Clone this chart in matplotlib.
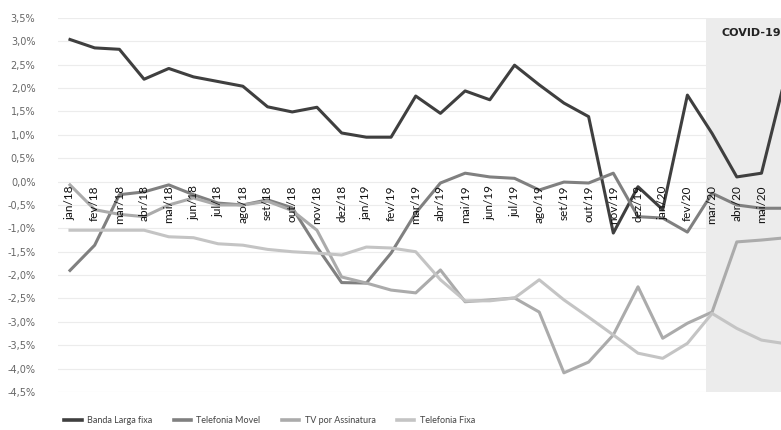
import numpy as np
import matplotlib
matplotlib.use("Agg")
import matplotlib.pyplot as plt
from matplotlib.ticker import FuncFormatter

MONTHS = ["jan/18", "fev/18", "mar/18", "abr/18", "mai/18", "jun/18", "jul/18", "ago/18",
          "set/18", "out/18", "nov/18", "dez/18", "jan/19", "fev/19", "mar/19", "abr/19",
          "mai/19", "jun/19", "jul/19", "ago/19", "set/19", "out/19", "nov/19", "dez/19",
          "jan/20", "fev/20", "mar/20", "abr/20", "mai/20", "jun/20"]

banda_larga = [3.04, 2.86, 2.83, 2.19, 2.42, 2.24, 2.14, 2.04, 1.60, 1.49, 1.59, 1.04,
               0.95, 0.95, 1.83, 1.46, 1.94, 1.75, 2.49, 2.07, 1.68, 1.39, -1.10, -0.11,
               -0.60, 1.85, 1.03, 0.10, 0.18, 2.30]
tel_movel = [-1.90, -1.36, -0.28, -0.22, -0.07, -0.28, -0.46, -0.50, -0.39, -0.56, -1.40, -2.16,
             -2.17, -1.53, -0.67, -0.03, 0.18, 0.10, 0.07, -0.18, -0.01, -0.03, 0.18, -0.75,
             -0.78, -1.08, -0.25, -0.50, -0.57, -0.57]
tv_assinatura = [-0.07, -0.60, -0.70, -0.75, -0.50, -0.35, -0.50, -0.50, -0.42, -0.62, -1.04, -2.04,
                 -2.17, -2.32, -2.38, -1.89, -2.57, -2.53, -2.49, -2.79, -4.09, -3.86, -3.28, -2.25,
                 -3.35, -3.03, -2.79, -1.29, -1.25, -1.20]
tel_fixa = [-1.04, -1.04, -1.04, -1.04, -1.18, -1.20, -1.33, -1.36, -1.45, -1.50, -1.53, -1.57,
            -1.40, -1.42, -1.50, -2.10, -2.55, -2.55, -2.49, -2.10, -2.53, -2.90, -3.28, -3.67,
            -3.78, -3.46, -2.82, -3.14, -3.39, -3.47]

SERIES = [("Banda Larga fixa", banda_larga, "#3f3f3f"),
          ("Telefonia Movel", tel_movel, "#808080"),
          ("TV por Assinatura", tv_assinatura, "#ababab"),
          ("Telefonia Fixa", tel_fixa, "#c4c4c4")]

COVID_START = 25.75
X_MAX = 28.79

fig = plt.figure(figsize=(7.81, 4.30), dpi=100)
ax = fig.add_axes([0.0738, 0.0884, 0.9262, 0.8698])

x = np.arange(len(MONTHS))
ax.axvspan(COVID_START, 31, color="#ececec", zorder=0, lw=0)
for name, vals, col in SERIES:
    ax.plot(x, vals, color=col, lw=2.2, label=name, zorder=3)

ax.set_xlim(-0.5, X_MAX)
ax.set_ylim(-4.5, 3.5)
ax.set_yticks(np.arange(-4.5, 3.51, 0.5))
ax.yaxis.set_major_formatter(FuncFormatter(lambda v, p: f"{v:.1f}%".replace(".", ",")))
ax.tick_params(axis="y", length=0, pad=16, labelsize=7, labelcolor="#666666")
ax.set_xticks([])
ax.grid(axis="y", color="#ececec", lw=0.8, zorder=1)
for s in ax.spines.values():
    s.set_visible(False)

# category labels sit inside the plot just under the 0% line
for i, m in enumerate(MONTHS):
    if i > X_MAX - 0.3:
        continue
    ax.text(i, -0.08, m, rotation=90, ha="center", va="top", fontsize=8.5,
            family=["Liberation Sans Narrow", "Lato"], color="#111111",
            zorder=4, clip_on=True)

ax.text(26.4, 3.18, "COVID-19", fontsize=8, fontweight="bold", color="#222222",
        va="center", ha="left", clip_on=True, zorder=4)

leg = fig.legend(loc="center left", bbox_to_anchor=(0.072, 0.022), ncol=4, frameon=False,
                 handlelength=1.9, columnspacing=2.4, handletextpad=0.6,
                 labelcolor="#444444", prop={"family": "Lato", "size": 6.5})
for h in leg.get_lines():
    h.set_linewidth(2.6)

fig.savefig("out.png", dpi=100)
